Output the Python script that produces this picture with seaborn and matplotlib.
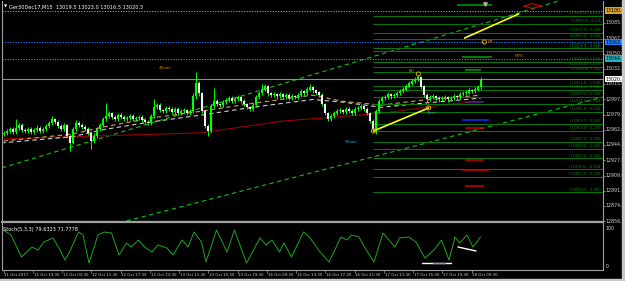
import numpy as np
import pandas as pd
import matplotlib
matplotlib.use("Agg")
import matplotlib.pyplot as plt
import seaborn as sns

sns.set_theme(style="dark")
plt.rcParams['font.family'] = ['DejaVu Sans']

# ---------------- data ----------------
title_text = "Ger30Dec17,M15  13019.5 13023.0 13016.5 13020.5"
stoch_title = "Stoch(5,3,3) 79.6323 71.7778"
first_open = 12957.5
close = [12958.5, 12960.5, 12963.0, 12959.5, 12964.0, 12967.5, 12961.5, 12960.5, 12963.0, 12959.5,
         12961.5, 12964.0, 12960.5, 12963.0, 12966.5, 12970.0, 12974.5, 12971.0, 12966.5, 12963.0,
         12967.5, 12955.0, 12947.0, 12963.0, 12970.0, 12967.5, 12965.0, 12963.0, 12958.5, 12949.0,
         12955.0, 12963.0, 12967.5, 12974.5, 12978.0, 12981.0, 12976.5, 12974.5, 12979.0, 12976.5,
         12974.5, 12975.5, 12978.0, 12974.5, 12975.5, 12976.5, 12973.0, 12971.0, 12970.0, 12978.0,
         12988.0, 12990.5, 12984.5, 12983.5, 12987.0, 12986.0, 12982.5, 12986.0, 12981.0, 12983.5,
         12984.5, 12981.0, 12983.5, 13000.5, 13015.5, 13004.0, 12983.5, 12966.5, 12960.5, 12989.0,
         12995.0, 12991.5, 12990.5, 12994.0, 12996.0, 12998.5, 12995.0, 12997.0, 12999.5, 12995.0,
         12991.5, 12988.0, 12986.0, 12990.5, 12999.5, 13004.0, 13008.5, 13012.0, 13004.0, 13002.0,
         13003.0, 13000.5, 13003.0, 12999.5, 13002.0, 12998.5, 13000.5, 12999.5, 13002.0, 13006.5,
         13004.0, 13008.5, 13011.0, 13007.5, 13005.0, 13002.0, 12991.5, 12981.0, 12974.5, 12978.0,
         12981.0, 12983.5, 12984.5, 12982.5, 12986.0, 12983.5, 12981.0, 12986.0, 12987.0, 12989.0,
         12986.0, 12981.0, 12972.0, 12963.0, 12983.5, 12995.0, 12998.5, 12999.5, 13003.0, 13000.5,
         13002.0, 13004.0, 13006.5, 13008.5, 13012.0, 13015.5, 13018.0, 13020.0, 13022.5, 13012.0,
         13002.0, 12997.0, 12999.5, 13000.5, 12998.5, 12997.0, 12998.5, 12999.5, 12997.0, 12998.5,
         13000.5, 12999.5, 13003.0, 13004.0, 13005.0, 13007.5, 13006.5, 13008.5, 13011.0, 13020.5]
high = [12961.0, 12963.0, 12965.5, 12965.0, 12974.5, 12970.0, 12969.5, 12964.0, 12965.5, 12965.0,
        12964.5, 12967.0, 12966.0, 12965.5, 12969.0, 12972.5, 12978.0, 12976.0, 12973.0, 12968.5,
        12970.0, 12969.0, 12957.0, 12965.5, 12973.0, 12972.0, 12969.5, 12967.0, 12965.0, 12960.5,
        12958.0, 12965.5, 12970.0, 12977.0, 12992.5, 12984.0, 12983.0, 12978.5, 12981.5, 12981.0,
        12978.5, 12978.0, 12980.5, 12980.0, 12978.0, 12979.0, 12978.5, 12975.0, 12973.0, 12980.5,
        12997.5, 12993.0, 12992.5, 12986.5, 12989.5, 12989.0, 12988.0, 12988.5, 12988.0, 12986.0,
        12987.0, 12986.5, 12986.0, 13004.0, 13029.0, 13018.0, 13006.0, 12986.0, 12968.5, 12992.0,
        13010.0, 12997.0, 12993.5, 12996.5, 12998.5, 13001.0, 13000.5, 12999.5, 13002.0, 13001.5,
        12997.0, 12993.5, 12990.0, 12993.0, 13002.0, 13006.5, 13015.5, 13014.5, 13014.0, 13006.0,
        13005.5, 13005.0, 13005.5, 13005.0, 13004.5, 13004.0, 13003.0, 13002.5, 13004.5, 13009.0,
        13008.5, 13011.0, 13014.5, 13013.0, 13009.5, 13007.0, 13004.0, 12993.5, 12983.0, 12980.5,
        12983.5, 12986.0, 12987.0, 12986.5, 12988.5, 12988.0, 12985.5, 12988.5, 12989.5, 12991.5,
        12991.0, 12988.0, 12983.0, 12974.0, 12986.0, 12998.0, 13001.0, 13002.0, 13005.5, 13005.0,
        13004.5, 13006.5, 13009.0, 13011.0, 13014.5, 13018.0, 13020.5, 13022.5, 13025.5, 13024.5,
        13014.0, 13004.0, 13002.0, 13003.0, 13002.5, 13000.5, 13001.0, 13002.0, 13001.5, 13001.0,
        13003.0, 13002.5, 13005.5, 13006.5, 13007.5, 13010.0, 13009.5, 13011.0, 13013.5, 13022.5]
low = [12955.0, 12956.0, 12958.0, 12957.0, 12957.0, 12962.0, 12959.0, 12958.0, 12958.0, 12957.0,
       12957.5, 12959.0, 12958.0, 12958.5, 12960.5, 12964.0, 12968.0, 12968.5, 12964.0, 12960.5,
       12961.0, 12952.5, 12937.5, 12945.0, 12961.0, 12965.0, 12962.5, 12960.5, 12956.0, 12940.0,
       12947.0, 12953.0, 12961.0, 12965.0, 12972.0, 12976.0, 12974.0, 12972.0, 12972.5, 12974.0,
       12972.0, 12972.5, 12973.0, 12972.0, 12972.5, 12973.0, 12970.5, 12968.5, 12967.5, 12968.0,
       12976.0, 12985.5, 12982.0, 12981.0, 12981.5, 12983.5, 12980.0, 12980.5, 12978.5, 12979.0,
       12981.5, 12978.5, 12979.0, 12981.0, 12998.0, 13001.5, 12981.0, 12964.0, 12955.0, 12958.5,
       12987.0, 12989.0, 12988.0, 12988.5, 12992.0, 12994.0, 12992.5, 12993.0, 12995.0, 12992.5,
       12989.0, 12985.5, 12983.5, 12984.0, 12988.5, 12997.5, 13002.0, 13006.5, 13001.5, 12999.5,
       13000.0, 12998.0, 12998.5, 12997.0, 12997.5, 12996.0, 12996.5, 12997.0, 12997.5, 13000.0,
       13001.5, 13002.0, 13006.5, 13005.0, 13002.5, 12999.5, 12989.0, 12978.5, 12972.0, 12972.5,
       12976.0, 12979.0, 12981.5, 12980.0, 12980.5, 12981.0, 12978.5, 12979.0, 12984.0, 12985.0,
       12983.5, 12978.5, 12969.5, 12960.0, 12957.0, 12981.5, 12993.0, 12996.5, 12997.5, 12998.0,
       12998.5, 13000.0, 13002.0, 13004.5, 13006.5, 13010.0, 13013.5, 13016.0, 13018.0, 13009.5,
       12999.5, 12994.5, 12995.0, 12997.5, 12996.0, 12994.5, 12995.0, 12996.5, 12994.5, 12995.0,
       12996.5, 12997.0, 12997.5, 13001.0, 13002.0, 13003.0, 13004.0, 13004.5, 13006.5, 13009.0]

# moving averages (vertices: bar index, price)
ma_long_bar = [0, 33, 66, 93, 126, 146, 159]
ma_long_val = [12951.5, 12955.0, 12958.5, 12972.0, 12981.0, 12990.5, 12995.0]
ma_orange_bar = [0, 23, 33, 49, 66, 83, 103, 113, 126, 139, 159]
ma_orange_val = [12949.0, 12957.0, 12965.0, 12975.5, 12983.5, 12992.5, 13002.0, 12995.0, 12990.5, 12996.0, 13002.0]
ma_grey_bar = [0, 23, 33, 49, 66, 83, 103, 113, 126, 139, 159]
ma_grey_val = [12947.0, 12954.0, 12962.0, 12971.0, 12979.0, 12988.0, 12997.0, 12994.0, 12988.0, 12992.5, 12998.5]

# channel lines
upper_ch_bar = [-0.5, 200]
upper_ch_val = [12918.0, 13126.5]
lower_ch_bar = [41, 200]
lower_ch_val = [12856.5, 13000.0]
yellow1_bar = [123.3, 141.7]
yellow1_val = [12960.6, 12987.2]
yellow2_bar = [153.7, 171.7]
yellow2_val = [13068.1, 13095.9]

# fibonacci-style horizontal levels (green), starting at bar 123
fib_levels = [13093.6, 13084.3, 13073.9, 13067.0, 13056.6, 13053.1, 13040.4, 13034.6, 13028.8,
              13012.6, 13008.0, 13000.0, 12991.8, 12982.6, 12968.7, 12960.6, 12947.9, 12939.8,
              12929.3, 12916.6, 12907.4, 12890.0]
fib_names = ["6.854", "4.236", "3.618", "2.618", "2.272", "2.000", "1.618", "1.500", "1.382",
             "1.000", "0.886", "0.786", "0.618", "0.500", "0.382", "0.236", "0.000", "-0.236",
             "-0.382", "-0.618", "-0.786", "-1.000"]

# short coloured segments
seg_vals = [12973.3, 12964.1, 12927.0, 12915.5, 12897.0, 12994.1, 13106.3, 13046.2, 13031.1]
seg_start = [152.7, 153.7, 153.7, 152.7, 153.7, 153.7, 151.0, 152.7, 153.7]
seg_end = [161.7, 160.3, 160.3, 161.7, 160.3, 160.3, 162.7, 162.7, 159.3]
seg_colors = ["#1030ff", "#d00000", "#d00000", "#d00000", "#d00000", "#5a1a9a", "#00a000", "#00a000", "#00a000"]

# full-width dotted levels
dot_levels = [13099.4, 13063.3, 13044.3]
dot_colors = ["#d8a020", "#2080ff", "#20b0c0"]
current_price = 13020.5

price_ticks = [12856.5, 12874.0, 12891.5, 12909.0, 12927.0, 12944.5, 12962.0, 12979.5,
               12997.5, 13015.0, 13032.5, 13050.0, 13067.5, 13085.5]
box_labels = ["13100.1", "13063.3", "13044.3", "13020.5"]
box_vals = [13100.1, 13063.3, 13044.3, 13020.5]
box_face = ["#e0a020", "#2080ff", "#20b0c0", "#ffffff"]

time_labels = ["11 Oct 2017", "11 Oct 19:30", "12 Oct 03:30", "12 Oct 11:30", "12 Oct 17:30",
               "12 Oct 23:30", "13 Oct 11:30", "13 Oct 15:30", "13 Oct 19:30", "16 Oct 09:30",
               "16 Oct 13:30", "16 Oct 17:30", "16 Oct 21:30", "17 Oct 11:30", "17 Oct 15:30",
               "17 Oct 19:30", "18 Oct 09:30"]
time_pos = [0, 9.75, 19.5, 29.25, 39, 48.75, 58.5, 68.25, 78, 87.75, 97.5, 107.25, 117,
            126.75, 136.5, 146.25, 156]

stoch_bar = [0, 2.5, 6, 9.5, 11.5, 13.5, 16.5, 18.5, 20.5, 22, 25, 26.5, 28.5, 31.5, 33.5, 36,
             38.5, 41, 42.5, 45, 47, 49.5, 51.5, 54.5, 56.5, 59.5, 61.5, 63.5, 66, 67.5, 71,
             74.5, 77, 81, 85.5, 87.5, 89.5, 92, 93.5, 96, 100, 102, 105, 108.5, 112.5, 114.5,
             116, 118.5, 120.5, 123.5, 126.5, 130.5, 132, 135, 137.5, 140.5, 143.5, 146, 148.5,
             150.5, 152, 154.5, 156.5, 159]
stoch_val = [94.7, 81.6, 23.7, 50.0, 42.1, 63.2, 73.7, 47.4, 15.8, 36.8, 89.5, 81.6, 7.9, 81.6,
             89.5, 86.8, 28.9, 60.5, 50.0, 68.4, 50.0, 36.8, 55.3, 47.4, 28.9, 68.4, 50.0, 89.5,
             63.0, 10.5, 94.7, 36.8, 94.7, 7.9, 73.7, 55.3, 68.4, 36.8, 60.5, 23.7, 89.5, 76.3,
             42.1, 10.5, 76.3, 68.4, 81.6, 76.3, 47.4, 10.5, 86.8, 50.0, 73.7, 76.3, 63.2, 21.1,
             42.1, 68.4, 15.8, 76.3, 60.5, 81.6, 50.0, 76.3]

# ---------------- figure ----------------
W, H = 625, 281
fig = plt.figure(figsize=(W / 100, H / 100), dpi=100, facecolor="black")
ax = fig.add_axes([2 / W, (H - 221) / H, 601 / W, 220 / H], facecolor="black")
axs = fig.add_axes([2 / W, (H - 270) / H, 601 / W, 48 / H], facecolor="black")

n = len(close)
opens = [first_open] + close[:-1]
df = pd.DataFrame({"bar": np.arange(n), "open": opens, "close": close, "high": high, "low": low})
df["lo_b"] = df[["open", "close"]].min(axis=1)
df["hi_b"] = df[["open", "close"]].max(axis=1)
up = df["close"] >= df["open"]

# channel and MA lines via seaborn
sns.lineplot(x=upper_ch_bar, y=upper_ch_val, ax=ax, color="#10c010", lw=0.8, linestyle=(0, (4, 3)))
sns.lineplot(x=lower_ch_bar, y=lower_ch_val, ax=ax, color="#10c010", lw=0.8, linestyle=(0, (4, 3)))
sns.lineplot(x=ma_long_bar, y=ma_long_val, ax=ax, color="#9a0000", lw=0.8)
sns.lineplot(x=ma_orange_bar, y=ma_orange_val, ax=ax, color="#d0a050", lw=0.8, linestyle=(0, (4, 3)))
sns.lineplot(x=ma_grey_bar, y=ma_grey_val, ax=ax, color="#d0d0d0", lw=0.8, linestyle=(2, (4, 3)))

# dotted full-width levels
for v, c in zip(dot_levels, dot_colors):
    ax.axhline(v, color=c, lw=0.7, linestyle=(0, (1.2, 1.5)))
ax.axhline(current_price, color="#909090", lw=0.8)

# fib levels
for v, nm in zip(fib_levels, fib_names):
    ax.hlines(v, 123, 200, color="#0a7a0a", lw=0.7)
    ax.text(199, v + 0.6, f"({v:.1f})  {nm}", color="#0a8a0a", fontsize=2.6, ha="right", va="bottom")

for v, s, e, c in zip(seg_vals, seg_start, seg_end, seg_colors):
    ax.hlines(v, s, e, color=c, lw=1.1)

# candles
ax.vlines(df["bar"], df["low"], df["high"], color="#00ff00", lw=0.7)
ax.vlines(df["bar"][up], df["lo_b"][up], df["hi_b"][up] + 0.3, color="#00ff00", lw=1.5)
ax.vlines(df["bar"][~up], df["lo_b"][~up], df["hi_b"][~up] + 0.3, color="#f0f0f0", lw=1.5)

# yellow trend lines
sns.lineplot(x=yellow1_bar, y=yellow1_val, ax=ax, color="#ffff00", lw=1.2)
sns.lineplot(x=yellow2_bar, y=yellow2_val, ax=ax, color="#ffff00", lw=1.2)

# markers & labels
ax.scatter([123.3, 141.7, 138.3, 160.3], [12960.6, 12987.2, 13026.5, 13063.5], s=9,
           facecolors="none", edgecolors="#e0a000", linewidths=0.7, zorder=5)
ax.text(51.7, 13033.5, "4(low)", color="#d08020", fontsize=3, va="center")
ax.text(113.7, 12947.9, "5(low)", color="#20b0d0", fontsize=3, va="center")
ax.text(135.0, 13030.0, "(B)", color="#d08020", fontsize=3, va="center")
ax.text(141.0, 12981.4, "(low)", color="#20b0d0", fontsize=3, va="center")
ax.text(161.5, 13063.5, "MT", color="#d08020", fontsize=3, va="center")
ax.text(170.3, 13047.3, "M75", color="#d08020", fontsize=3, va="center")
ax.plot([173.5, 176, 179.5, 176, 173.5], [13105, 13108, 13105, 13102.5, 13105], color="#d00000", lw=0.8)
ax.plot([160.5], [13107], marker="v", color="#b0b0b0", ms=2.5)

ax.set_xlim(-0.5, -0.5 + 601 / 3)
ax.set_ylim(12856.5, 13110.9)
ax.set_xticks([])
ax.set_yticks([])
ax.set_xlabel("")
ax.set_ylabel("")
for sp in ax.spines.values():
    sp.set_color("#a0a0a0")
    sp.set_linewidth(0.8)
ax.spines["top"].set_visible(False)

# right price scale
tr = ax.get_yaxis_transform()
for t in price_ticks:
    ax.text(1.004, t, f"{t:.1f}", transform=tr, color="#d0d0d0", fontsize=3.4, va="center", ha="left", clip_on=False)
    ax.plot([1.0, 1.003], [t, t], transform=tr, color="#a0a0a0", lw=0.5, clip_on=False)
for lab, v, fc in zip(box_labels, box_vals, box_face):
    ax.text(1.004, v, lab, transform=tr, color="black", fontsize=3.4, va="center", ha="left", clip_on=False,
            bbox=dict(boxstyle="square,pad=0.15", fc=fc, ec="none"))

ax.text(0.012, 0.985, title_text, transform=ax.transAxes, color="white", fontsize=3.6, va="top", ha="left")
ax.text(0.003, 0.985, "\u25bc", transform=ax.transAxes, color="white", fontsize=3, va="top", ha="left")

# stochastic panel
sns.lineplot(x=stoch_bar, y=stoch_val, ax=axs, color="#1aa81a", lw=0.7)
axs.plot([139.5, 149], [7.9, 7.9], color="white", lw=1.0)
axs.plot([143, 147], [7.9, 7.9], color="#9090d0", lw=1.0)
axs.plot([151.5, 157.5], [50.0, 39.5], color="white", lw=1.0)
axs.set_xlim(-0.5, -0.5 + 601 / 3)
axs.set_ylim(-10.5, 115.8)
axs.set_yticks([])
axs.set_xlabel("")
axs.set_ylabel("")
axs.set_xticks(time_pos)
axs.set_xticklabels([])
axs.tick_params(axis="x", length=2, width=0.5, color="#a0a0a0", bottom=True, direction="out")
for sp in axs.spines.values():
    sp.set_color("#a0a0a0")
    sp.set_linewidth(0.8)
axs.spines["top"].set_linewidth(1.6)
axs.text(0.002, 0.9, stoch_title, transform=axs.transAxes, color="white", fontsize=3.6, va="top", ha="left")
trs = axs.get_yaxis_transform()
axs.text(1.004, 100, "100", transform=trs, color="#d0d0d0", fontsize=3.4, va="center", clip_on=False)
axs.text(1.004, 0, "0", transform=trs, color="#d0d0d0", fontsize=3.4, va="center", clip_on=False)
trx = axs.get_xaxis_transform()
for p, lab in zip(time_pos, time_labels):
    axs.text(p + 0.3, -0.1, lab, transform=trx, color="#d0d0d0", fontsize=2.75, ha="left", va="center", clip_on=False)

# window borders
fig.patches.append(plt.Rectangle((0, 0), 1, 2 / H, transform=fig.transFigure, color="#c8c8c8", zorder=10))
fig.patches.append(plt.Rectangle((622 / W, 0), 3 / W, 1, transform=fig.transFigure, color="#c8c8c8", zorder=10))

fig.savefig("out.png", dpi=100, facecolor="black")
